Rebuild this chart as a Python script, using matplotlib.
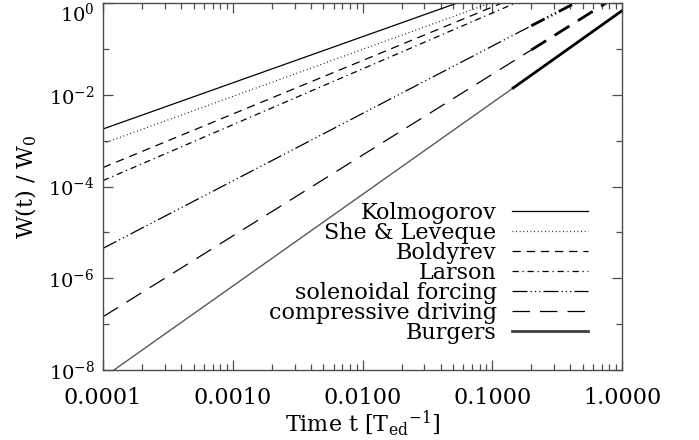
import matplotlib
matplotlib.use('Agg')
import matplotlib.pyplot as plt
from matplotlib.lines import Line2D

# values (W(t)/W0 versus t, log-log)
# each line: thin part from t_start to t_mid, thick part t_mid to 1 (if any)
names = ['Kolmogorov', 'She & Leveque', 'Boldyrev', 'Larson',
         'solenoidal forcing', 'compressive driving', 'Burgers']

kolmogorov_t = [1e-4, 1.0]
kolmogorov_w = [1.8e-3, 19.0]
sheleveque_t = [1e-4, 1.0]
sheleveque_w = [8.7e-4, 11.0]
boldyrev_t = [1e-4, 1.0]
boldyrev_w = [2.6e-4, 12.0]
larson_t = [1e-4, 1.0]
larson_w = [1.35e-4, 10.0]
solenoidal_t = [1e-4, 0.2, 1.0]
solenoidal_w = [4.5e-6, 0.32, 3.4]
compressive_t = [1e-4, 0.2, 1.0]
compressive_w = [1.45e-7, 0.095, 1.66]
burgers_t = [1e-4, 0.145, 1.0]
burgers_w = [6.8e-9, 0.0141, 0.68]

xticks = [1e-4, 1e-3, 1e-2, 1e-1, 1.0]
xticklabels = ['0.0001', '0.0010', '0.0100', '0.1000', '1.0000']
yticks = [1e-8, 1e-6, 1e-4, 1e-2, 1.0]
yticklabels = [r'$10^{-8}$', r'$10^{-6}$', r'$10^{-4}$', r'$10^{-2}$', r'$10^{0}$']
yminor = [1e-7, 1e-5, 1e-3, 1e-1]

plt.rcParams['font.family'] = 'DejaVu Serif'
plt.rcParams['mathtext.fontset'] = 'dejavuserif'
plt.rcParams['font.size'] = 16
plt.rcParams['lines.scale_dashes'] = False

fig = plt.figure(figsize=(6.99, 4.40), dpi=100)
ax = fig.add_axes([0.1474, 0.159, 0.7424, 0.834])

lw = 0.9
styles = [
    '-',
    (0, (0.6, 2.0)),
    (0, (6.0, 4.2)),
    (0, (4.5, 2.7, 0.9, 2.7)),
    (0, (10.8, 2.2, 0.9, 2.2, 0.9, 2.2, 0.9, 2.2)),
    (0, (12.6, 7.2)),
    '-',
]
series = [(kolmogorov_t, kolmogorov_w), (sheleveque_t, sheleveque_w),
          (boldyrev_t, boldyrev_w), (larson_t, larson_w),
          (solenoidal_t, solenoidal_w), (compressive_t, compressive_w),
          (burgers_t, burgers_w)]

handles = []
for i, (t, w) in enumerate(series):
    burg = names[i] == 'Burgers'
    ax.plot(t[:2], w[:2], color='0.35' if burg else 'black',
            lw=1.0 if burg else lw, linestyle=styles[i])
    if len(t) > 2:
        ax.plot(t[1:], w[1:], color='black', lw=2.0, linestyle=styles[i])
    if burg:
        handles.append(Line2D([], [], color='0.25', lw=2.0, linestyle=styles[i]))
    else:
        handles.append(Line2D([], [], color='black', lw=lw, linestyle=styles[i]))

ax.set_xscale('log')
ax.set_yscale('log')
ax.set_xlim(1e-4, 1.0)
ax.set_ylim(1e-8, 1.0)

ax.set_xticks(xticks)
ax.set_xticklabels(xticklabels)
ax.set_yticks(yticks)
ax.set_yticklabels(yticklabels, fontsize=14)
ax.set_yticks(yminor, minor=True)
ax.yaxis.set_minor_formatter(plt.NullFormatter())

# top label hangs below its tick so it stays inside the figure
ax.yaxis.get_major_ticks()[-1].label1.set_verticalalignment('top')

ax.tick_params(which='both', direction='in', top=True, right=True, width=0.9, color='0.3')
ax.tick_params(axis='x', which='major', length=7, pad=12)
ax.tick_params(axis='x', which='minor', length=4)
ax.tick_params(axis='y', which='major', length=7.5, pad=6)
ax.tick_params(axis='y', which='minor', length=4.5)
for s in ax.spines.values():
    s.set_linewidth(1.0)
    s.set_color('0.3')

ax.set_xlabel(r'Time t [T$_{\rm ed}$$^{-1}$]', labelpad=0)
ax.set_ylabel(r'W(t) / W$_0$', labelpad=7)

ax.legend(handles, names, loc='lower right', bbox_to_anchor=(0.934, 0.072),
          frameon=False, markerfirst=False, handlelength=3.42,
          handletextpad=0.68, labelspacing=-0.09, borderaxespad=0, borderpad=0)

fig.savefig('out.png', dpi=100)
